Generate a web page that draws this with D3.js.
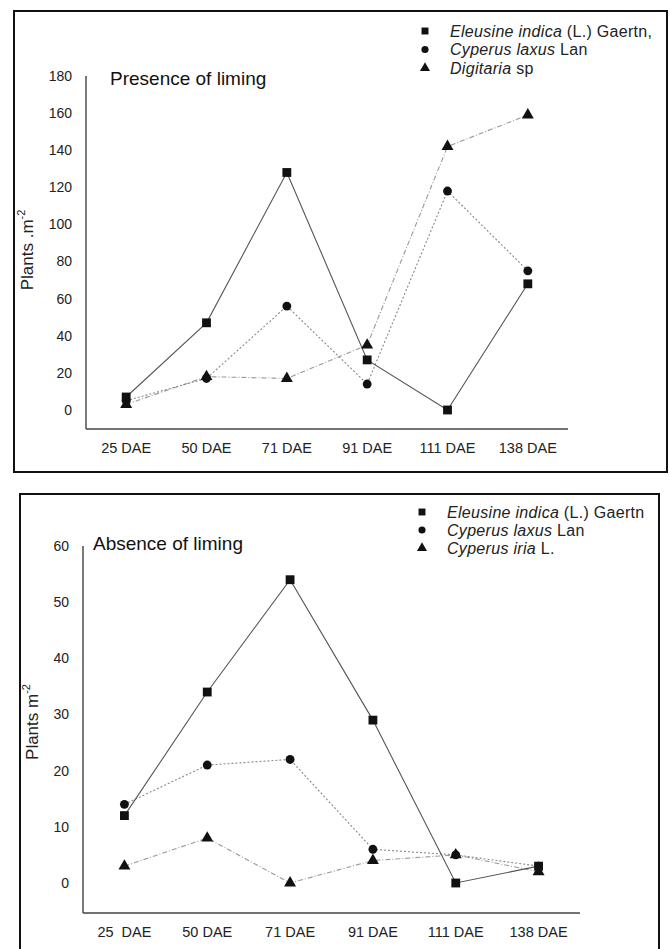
<!DOCTYPE html>
<html>
<head>
<meta charset="utf-8">
<script src="https://cdn.jsdelivr.net/npm/d3@7"></script>
<style>
  body { margin: 0; background: #fff; }
  svg { display: block; font-family: "Liberation Sans", Arial, sans-serif; }
</style>
</head>
<body>
<div id="chart"></div>
<script>
// categories
const days = ["25 DAE", "50 DAE", "71 DAE", "91 DAE", "111 DAE", "138 DAE"];
const daysBottom = ["25  DAE", "50 DAE", "71 DAE", "91 DAE", "111 DAE", "138 DAE"];

// presence of liming (plants m-2)
const limedEleusine = [7, 47, 128, 27, 0, 68];
const limedCyperus = [5, 17, 56, 14, 118, 75];
const limedDigitaria = [3, 18, 17, 35, 142, 159];
const limedTicks = [0, 20, 40, 60, 80, 100, 120, 140, 160, 180];

// absence of liming (plants m-2)
const unlimedEleusine = [12, 34, 54, 29, 0, 3];
const unlimedLaxus = [14, 21, 22, 6, 5, 3];
const unlimedIria = [3, 8, 0, 4, 5, 2];
const unlimedTicks = [0, 10, 20, 30, 40, 50, 60];

const svg = d3.select("#chart").append("svg")
    .attr("width", 670)
    .attr("height", 949);

const lineStyles = {
    square: { stroke: "#555", dash: null, width: 1.1 },
    circle: { stroke: "#888", dash: "2,2", width: 1.1 },
    triangle: { stroke: "#999", dash: "5,2,1,2", width: 1.1 }
};

function drawPanel(p) {
    // frame
    svg.append("rect")
        .attr("x", p.box[0]).attr("y", p.box[1])
        .attr("width", p.box[2] - p.box[0]).attr("height", p.box[3] - p.box[1])
        .attr("fill", "none").attr("stroke", "#111").attr("stroke-width", 2);

    const x = d3.scalePoint().domain(p.labels).range([p.x0, p.x1]).padding(0.5);
    const y = d3.scaleLinear().domain([0, p.ticks[p.ticks.length - 1]]).range([p.y0, p.yTop]);

    // axes lines
    svg.append("line")
        .attr("x1", p.x0).attr("x2", p.x0)
        .attr("y1", p.yTop).attr("y2", p.axisY)
        .attr("stroke", "#333").attr("stroke-width", 1.3);
    svg.append("line")
        .attr("x1", p.x0).attr("x2", p.x1)
        .attr("y1", p.axisY).attr("y2", p.axisY)
        .attr("stroke", "#444").attr("stroke-width", 1.5);

    // y tick labels
    svg.append("g").selectAll("text")
        .data(p.ticks)
        .enter().append("text")
        .attr("x", p.x0 - 14)
        .attr("y", d => y(d))
        .attr("dy", "0.35em")
        .attr("text-anchor", "end")
        .attr("font-size", 14)
        .attr("fill", "#222")
        .text(d => d);

    // x tick labels
    svg.append("g").selectAll("text")
        .data(p.labels)
        .enter().append("text")
        .attr("x", d => x(d))
        .attr("y", p.labelY)
        .attr("dy", "0.35em")
        .attr("text-anchor", "middle")
        .attr("font-size", 14.5)
        .attr("fill", "#222")
        .style("white-space", "pre")
        .text(d => d);

    // y axis title
    const yt = svg.append("text")
        .attr("transform", `translate(${p.yTitle[0]},${p.yTitle[1]}) rotate(-90)`)
        .attr("text-anchor", "middle")
        .attr("font-size", 17)
        .attr("fill", "#222");
    yt.append("tspan").text(p.yTitleText);
    yt.append("tspan").attr("dy", -8).attr("font-size", 11).text("-2");

    // panel title
    svg.append("text")
        .attr("x", p.title[0]).attr("y", p.title[1])
        .attr("dy", "0.35em")
        .attr("font-size", 19)
        .attr("fill", "#111")
        .text(p.titleText);

    const line = d3.line()
        .x((d, i) => x(p.labels[i]))
        .y(d => y(d));

    // lines, drawn back to front
    p.series.slice().reverse().forEach(s => {
        const st = lineStyles[s.shape];
        svg.append("path")
            .datum(s.values)
            .attr("d", line)
            .attr("fill", "none")
            .attr("stroke", st.stroke)
            .attr("stroke-width", st.width)
            .attr("stroke-dasharray", st.dash);
    });

    const symbolFor = {
        square: d3.symbol().type(d3.symbolSquare).size(78),
        circle: d3.symbol().type(d3.symbolCircle).size(62),
        triangle: d3.symbol().type(d3.symbolTriangle).size(62)
    };

    p.series.slice().reverse().forEach(s => {
        svg.append("g").selectAll("path")
            .data(s.values)
            .enter().append("path")
            .attr("d", symbolFor[s.shape])
            .attr("transform", (d, i) => `translate(${x(p.labels[i])},${y(d)})`)
            .attr("fill", "#111");
    });

    // legend
    const legendSymbol = {
        square: d3.symbol().type(d3.symbolSquare).size(48),
        circle: d3.symbol().type(d3.symbolCircle).size(40),
        triangle: d3.symbol().type(d3.symbolTriangle).size(44)
    };
    p.series.forEach((s, i) => {
        const ly = p.legend[1] + i * p.legendStep;
        svg.append("path")
            .attr("d", legendSymbol[s.shape])
            .attr("transform", `translate(${p.legend[0]},${ly})`)
            .attr("fill", "#111");
        const t = svg.append("text")
            .attr("x", p.legend[0] + 25)
            .attr("y", ly)
            .attr("dy", "0.35em")
            .attr("font-size", 16)
            .attr("letter-spacing", 0.3)
            .attr("fill", "#222");
        s.name.forEach(part => {
            t.append("tspan")
                .attr("font-style", part[1] ? "italic" : "normal")
                .style("white-space", "pre")
                .text(part[0]);
        });
    });
}

drawPanel({
    box: [14, 11, 667, 472],
    x0: 86, x1: 568, y0: 410, yTop: 76, axisY: 429,
    labels: days,
    ticks: limedTicks,
    labelY: 448,
    yTitle: [33, 250],
    yTitleText: "Plants .m",
    title: [110, 78],
    titleText: "Presence of liming",
    legend: [425, 31],
    legendStep: 18.5,
    series: [
        { shape: "square", values: limedEleusine, name: [["Eleusine indica", true], [" (L.) Gaertn,", false]] },
        { shape: "circle", values: limedCyperus, name: [["Cyperus laxus", true], [" Lan", false]] },
        { shape: "triangle", values: limedDigitaria, name: [["Digitaria", true], [" sp", false]] }
    ]
});

drawPanel({
    box: [20, 494, 659, 960],
    x0: 83, x1: 580, y0: 883, yTop: 546, axisY: 913,
    labels: daysBottom,
    ticks: unlimedTicks,
    labelY: 932,
    yTitle: [38, 722],
    yTitleText: "Plants m",
    title: [93, 543],
    titleText: "Absence of liming",
    legend: [422, 512],
    legendStep: 18,
    series: [
        { shape: "square", values: unlimedEleusine, name: [["Eleusine indica", true], [" (L.) Gaertn", false]] },
        { shape: "circle", values: unlimedLaxus, name: [["Cyperus laxus", true], [" Lan", false]] },
        { shape: "triangle", values: unlimedIria, name: [["Cyperus iria", true], [" L.", false]] }
    ]
});
</script>
</body>
</html>
